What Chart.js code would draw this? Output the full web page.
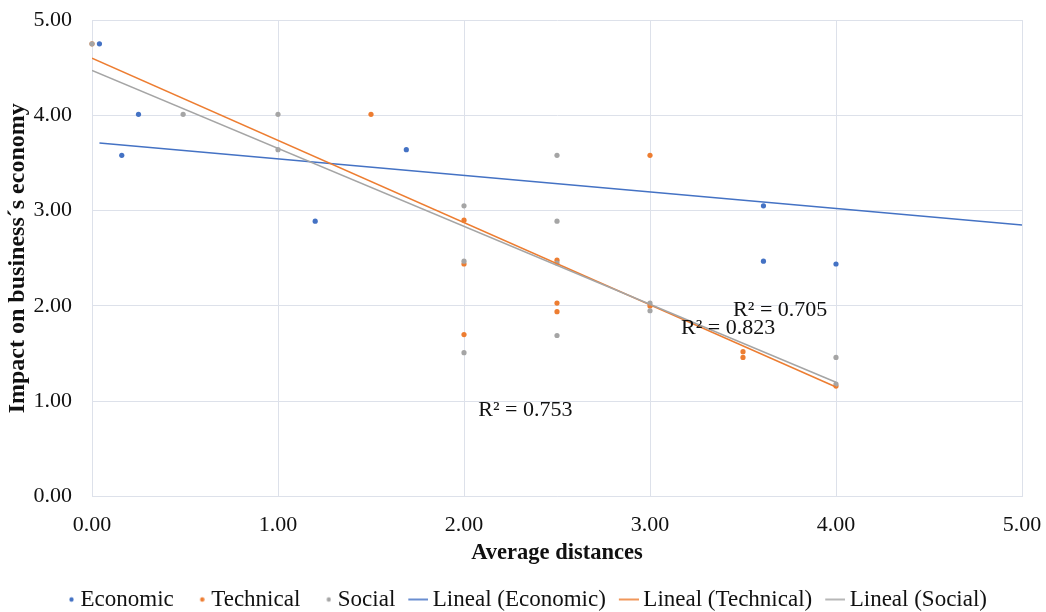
<!DOCTYPE html>
<html>
<head>
<meta charset="utf-8">
<script src="https://cdn.jsdelivr.net/npm/chart.js@4"></script>
<style>
  html, body { margin: 0; padding: 0; background: #fff; }
  #wrap { width: 1046px; height: 612px; }
</style>
</head>
<body>
<div id="wrap"><canvas id="myChart" width="1046" height="612"></canvas></div>
<script>
// values
const economicX = [0.04, 0.16, 0.25, 1.20, 1.69, 3.61, 3.61, 4.00];
const economicY = [4.75, 3.58, 4.01, 2.89, 3.64, 3.05, 2.47, 2.44];

const technicalX = [0.00, 1.50, 2.00, 2.00, 2.00, 2.50, 2.50, 2.50, 3.00, 3.00, 3.50, 3.50, 4.00];
const technicalY = [4.75, 4.01, 2.90, 2.44, 1.70, 2.48, 2.03, 1.94, 3.58, 2.00, 1.52, 1.46, 1.16];

const socialX = [0.00, 0.49, 1.00, 1.00, 2.00, 2.00, 2.00, 2.50, 2.50, 2.50, 2.50, 3.00, 3.00, 4.00, 4.00];
const socialY = [4.75, 4.01, 4.01, 3.64, 3.05, 2.47, 1.51, 3.58, 2.89, 2.45, 1.69, 2.03, 1.95, 1.46, 1.18];

// trend line end points (start, end)
const trendEconomicX = [0.04, 5.00];
const trendEconomicY = [3.71, 2.85];
const trendTechnicalX = [0.00, 4.00];
const trendTechnicalY = [4.60, 1.15];
const trendSocialX = [0.00, 4.00];
const trendSocialY = [4.47, 1.20];

const r2Text = ['R² = 0.705', 'R² = 0.823', 'R² = 0.753'];
const r2X = [3.70, 3.42, 2.33];
const r2Y = [1.96, 1.77, 0.91];

const xTicks = [0, 1, 2, 3, 4, 5];
const yTicks = [0, 1, 2, 3, 4, 5];

const seriesNames = ['Economic', 'Technical', 'Social', 'Lineal (Economic)', 'Lineal (Technical)', 'Lineal (Social)'];
const colors = ['#4472C4', '#ED7D31', '#A5A5A5'];
const gridColor = '#dde1ea';
const serif = "'Liberation Serif', 'Times New Roman', serif";

function pairs(xs, ys) {
    return xs.map((x, i) => ({ x: x, y: ys[i] }));
}

// little canvases for the legend symbols
function dotIcon(color) {
    const c = document.createElement('canvas');
    c.width = 20; c.height = 8;
    const g = c.getContext('2d');
    g.fillStyle = color;
    g.beginPath();
    g.arc(17.5, 4, 2.2, 0, Math.PI * 2);
    g.fill();
    return c;
}
function lineIcon(color) {
    const c = document.createElement('canvas');
    c.width = 24; c.height = 4;
    const g = c.getContext('2d');
    g.strokeStyle = color;
    g.lineWidth = 1.6;
    g.beginPath();
    g.moveTo(4, 2);
    g.lineTo(24, 2);
    g.stroke();
    return c;
}

function scatterSet(name, xs, ys, color, order) {
    return {
        label: name,
        data: pairs(xs, ys),
        showLine: false,
        pointRadius: 2.6,
        pointBackgroundColor: color,
        pointBorderWidth: 0,
        borderColor: color,
        clip: false,
        order: order
    };
}
function trendSet(name, xs, ys, color, order) {
    return {
        label: name,
        data: pairs(xs, ys),
        showLine: true,
        borderColor: color,
        borderWidth: 1.5,
        pointRadius: 0,
        fill: false,
        order: order
    };
}

const r2Plugin = {
    id: 'r2Labels',
    afterDatasetsDraw(chart) {
        const ctx = chart.ctx;
        const xs = chart.scales.x, ys = chart.scales.y;
        ctx.save();
        ctx.font = '22px ' + serif;
        ctx.fillStyle = '#111';
        ctx.textAlign = 'center';
        ctx.textBaseline = 'middle';
        r2Text.forEach((t, i) => {
            ctx.fillText(t, xs.getPixelForValue(r2X[i]), ys.getPixelForValue(r2Y[i]));
        });
        ctx.restore();
    }
};

const ctx = document.getElementById('myChart').getContext('2d');
new Chart(ctx, {
    type: 'scatter',
    data: {
        datasets: [
            scatterSet(seriesNames[0], economicX, economicY, colors[0], 6),
            scatterSet(seriesNames[1], technicalX, technicalY, colors[1], 5),
            scatterSet(seriesNames[2], socialX, socialY, colors[2], 4),
            trendSet(seriesNames[3], trendEconomicX, trendEconomicY, colors[0], 3),
            trendSet(seriesNames[4], trendTechnicalX, trendTechnicalY, colors[1], 2),
            trendSet(seriesNames[5], trendSocialX, trendSocialY, colors[2], 1)
        ]
    },
    options: {
        responsive: false,
        animation: false,
        events: [],
        layout: { padding: { top: 20, right: 0, left: 0, bottom: -9 } },
        plugins: {
            tooltip: { enabled: false },
            legend: {
                position: 'bottom',
                labels: {
                    usePointStyle: true,
                    boxWidth: 10,
                    boxHeight: 10,
                    padding: 16,
                    color: '#111',
                    font: { family: serif, size: 23 },
                    generateLabels(chart) {
                        return chart.data.datasets.map((ds, i) => ({
                            text: ds.label,
                            pointStyle: i < 3 ? dotIcon(colors[i]) : lineIcon(colors[i - 3]),
                            fillStyle: 'transparent',
                            strokeStyle: 'transparent',
                            lineWidth: 0,
                            fontColor: '#111',
                            hidden: false,
                            datasetIndex: i
                        }));
                    }
                }
            }
        },
        scales: {
            x: {
                type: 'linear',
                min: 0,
                max: 5,
                afterBuildTicks(scale) { scale.ticks = xTicks.map(v => ({ value: v })); },
                afterFit(scale) { scale.paddingLeft = 0; scale.paddingRight = 24; },
                ticks: {
                    callback: v => Number(v).toFixed(2),
                    padding: 15,
                    color: '#111',
                    font: { family: serif, size: 22 }
                },
                grid: { color: gridColor, drawTicks: false },
                border: { color: gridColor },
                title: {
                    display: true,
                    text: 'Average distances',
                    color: '#111',
                    padding: { top: -13, bottom: 5 },
                    font: { family: serif, size: 22.5, weight: 'bold' }
                }
            },
            y: {
                type: 'linear',
                min: 0,
                max: 5,
                afterBuildTicks(scale) { scale.ticks = yTicks.map(v => ({ value: v })); },
                afterFit(scale) { scale.width = 92; scale.paddingTop = 0; scale.paddingBottom = 0; },
                ticks: {
                    callback: v => Number(v).toFixed(2),
                    padding: 20,
                    color: '#111',
                    font: { family: serif, size: 22 }
                },
                grid: { color: gridColor, drawTicks: false },
                border: { color: gridColor },
                title: {
                    display: true,
                    text: 'Impact on business´s economy',
                    color: '#111',
                    padding: { top: 3, bottom: 0 },
                    font: { family: serif, size: 24, weight: 'bold' }
                }
            }
        }
    },
    plugins: [r2Plugin]
});
</script>
</body>
</html>
